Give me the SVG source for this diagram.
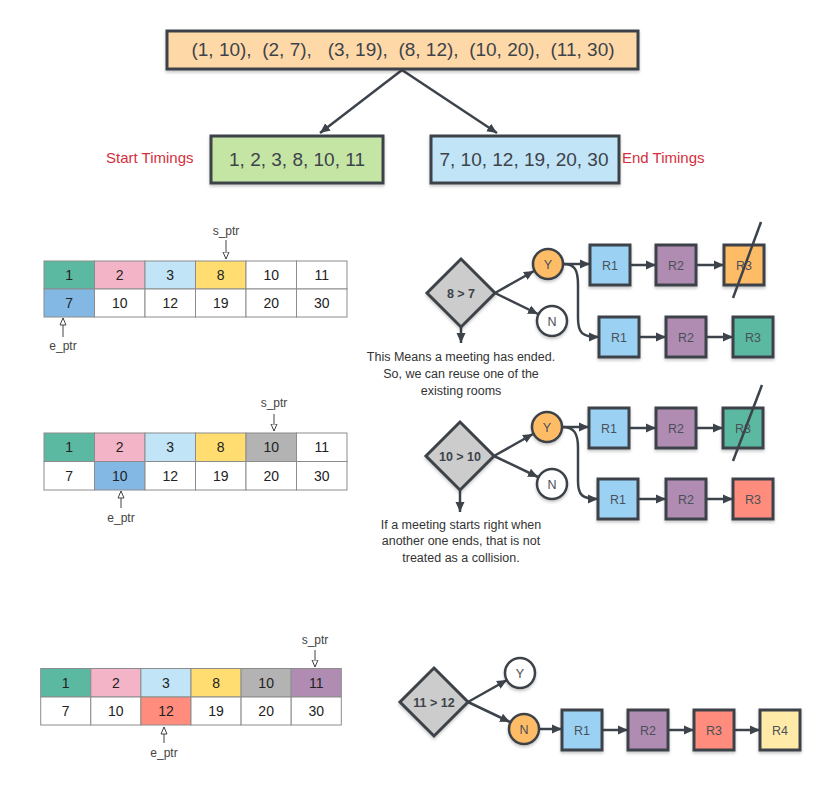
<svg xmlns="http://www.w3.org/2000/svg" width="826" height="807" viewBox="0 0 826 807">
<defs>
<style>
.bg{fill:#ffffff}
.box{stroke:#3d434a;stroke-width:3;filter:url(#sh)}
.t{font-family:"Liberation Sans",Arial,sans-serif;fill:#3d434a;text-anchor:middle}
.big{font-size:19px}
.red{font-family:"Liberation Sans",Arial,sans-serif;fill:#d52f3c;font-size:15px}
.cell{stroke:#8c8c8c;stroke-width:1}
.ct{font-family:"Liberation Sans",Arial,sans-serif;fill:#222;font-size:14px;text-anchor:middle}
.ptr{font-family:"Liberation Sans",Arial,sans-serif;fill:#444;font-size:12px;text-anchor:middle}
.pl{stroke:#444;stroke-width:1;fill:none;marker-end:url(#open)}
.con{stroke:#3d434a;stroke-width:2.5;fill:none;marker-end:url(#ah)}
.dia{fill:#cccccc;stroke:#3d434a;stroke-width:3;filter:url(#sh)}
.dt{font-family:"Liberation Sans",Arial,sans-serif;fill:#3d434a;font-size:12.5px;font-weight:bold;text-anchor:middle}
.circ{stroke:#3d434a;stroke-width:2.5;filter:url(#sh)}
.rt{font-family:"Liberation Sans",Arial,sans-serif;fill:#4a5058;font-size:12.5px;text-anchor:middle}
.note{font-family:"Liberation Sans",Arial,sans-serif;fill:#333;font-size:12.5px;text-anchor:middle}
.strike{stroke:#3d434a;stroke-width:2.5}
.rb{stroke:#3d434a;stroke-width:3;filter:url(#sh)}
</style>
<filter id="sh" x="-20%" y="-20%" width="150%" height="150%">
<feDropShadow dx="0" dy="2" stdDeviation="1.5" flood-color="#000" flood-opacity="0.22"/>
</filter>
<marker id="ah" markerUnits="userSpaceOnUse" markerWidth="11" markerHeight="10" refX="10" refY="5" orient="auto">
<path d="M0,0.5 L10,5 L0,9.5 Z" fill="#3d434a"/>
</marker>
<marker id="open" markerUnits="userSpaceOnUse" markerWidth="9" markerHeight="10" refX="7.5" refY="4" orient="auto">
<path d="M0.5,1 L7.5,4 L0.5,7 Z" fill="#ffffff" stroke="#444" stroke-width="1"/>
</marker>
</defs>
<rect class="bg" x="0" y="0" width="826" height="807"/>

<g id="connectors">
<path class="con" d="M402,70 L320,133"/>
<path class="con" d="M402,70 L497,133"/>
<!-- flow 1 -->
<path class="con" d="M461,327 L461,343"/>
<path class="con" d="M495,293 L534,271"/>
<path class="con" d="M495,293 L538,314"/>
<path class="con" d="M563,264 L590,264"/>
<path class="con" d="M630,265 L656,265"/>
<path class="con" d="M696,265 L724,265"/>
<path class="con" d="M563,264 C575,264 578,270 578,285 L578,318 C578,333 582,337 599,337"/>
<path class="con" d="M639,337 L666,337"/>
<path class="con" d="M706,337 L733,337"/>
<!-- flow 2 -->
<path class="con" d="M460,490 L460,512"/>
<path class="con" d="M494,456 L533,434"/>
<path class="con" d="M494,456 L538,477"/>
<path class="con" d="M562,427 L589,427"/>
<path class="con" d="M629,428 L656,428"/>
<path class="con" d="M696,428 L723,428"/>
<path class="con" d="M562,427 C574,427 578,433 578,448 L578,481 C578,495 582,499 598,499"/>
<path class="con" d="M638,499 L666,499"/>
<path class="con" d="M706,499 L733,499"/>
<!-- flow 3 -->
<path class="con" d="M468,702 L507,680"/>
<path class="con" d="M468,702 L510,722"/>
<path class="con" d="M539,729 L562,729"/>
<path class="con" d="M602,730 L628,730"/>
<path class="con" d="M668,730 L694,730"/>
<path class="con" d="M734,730 L760,730"/>
</g>

<g id="all-pairs">
<rect class="box" x="167" y="31" width="471" height="38" fill="#ffd8a8"/>
<text class="t big" x="403" y="56" xml:space="preserve">(1, 10),  (2, 7),   (3, 19),  (8, 12),  (10, 20),  (11, 30)</text>
</g>
<g id="start-timings">
<rect class="box" x="211" y="136" width="172" height="47" fill="#c5e5a5"/>
<text class="t big" x="297" y="166">1, 2, 3, 8, 10, 11</text>
<text class="red" x="106" y="163">Start Timings</text>
</g>
<g id="end-timings">
<rect class="box" x="431" y="136" width="188" height="47" fill="#c1e4f7"/>
<text class="t big" x="524" y="166">7, 10, 12, 19, 20, 30</text>
<text class="red" x="622" y="163">End Timings</text>
</g>

<g id="table-1">
<rect class="cell" x="44" y="261" width="50.5" height="28" fill="#5bb9a1"/>
<rect class="cell" x="94.5" y="261" width="50.5" height="28" fill="#f4b4c8"/>
<rect class="cell" x="145" y="261" width="50.5" height="28" fill="#c1e4f7"/>
<rect class="cell" x="195.5" y="261" width="50.5" height="28" fill="#ffdd71"/>
<rect class="cell" x="246" y="261" width="50.5" height="28" fill="#ffffff"/>
<rect class="cell" x="296.5" y="261" width="50.5" height="28" fill="#ffffff"/>
<rect class="cell" x="44" y="289" width="50.5" height="28" fill="#83b8e4"/>
<rect class="cell" x="94.5" y="289" width="50.5" height="28" fill="#ffffff"/>
<rect class="cell" x="145" y="289" width="50.5" height="28" fill="#ffffff"/>
<rect class="cell" x="195.5" y="289" width="50.5" height="28" fill="#ffffff"/>
<rect class="cell" x="246" y="289" width="50.5" height="28" fill="#ffffff"/>
<rect class="cell" x="296.5" y="289" width="50.5" height="28" fill="#ffffff"/>
<text class="ct" x="69.25" y="280">1</text>
<text class="ct" x="119.75" y="280">2</text>
<text class="ct" x="170.25" y="280">3</text>
<text class="ct" x="220.75" y="280">8</text>
<text class="ct" x="271.25" y="280">10</text>
<text class="ct" x="321.75" y="280">11</text>
<text class="ct" x="69.25" y="308">7</text>
<text class="ct" x="119.75" y="308">10</text>
<text class="ct" x="170.25" y="308">12</text>
<text class="ct" x="220.75" y="308">19</text>
<text class="ct" x="271.25" y="308">20</text>
<text class="ct" x="321.75" y="308">30</text>
<text class="ptr" x="226" y="235">s_ptr</text>
<path class="pl" d="M226,240 L226,259"/>
<text class="ptr" x="63" y="350">e_ptr</text>
<path class="pl" d="M63,337 L63,318"/>
</g>

<g id="table-2">
<rect class="cell" x="44" y="433" width="50.5" height="28.5" fill="#5bb9a1"/>
<rect class="cell" x="94.5" y="433" width="50.5" height="28.5" fill="#f4b4c8"/>
<rect class="cell" x="145" y="433" width="50.5" height="28.5" fill="#c1e4f7"/>
<rect class="cell" x="195.5" y="433" width="50.5" height="28.5" fill="#ffdd71"/>
<rect class="cell" x="246" y="433" width="50.5" height="28.5" fill="#b3b3b3"/>
<rect class="cell" x="296.5" y="433" width="50.5" height="28.5" fill="#ffffff"/>
<rect class="cell" x="44" y="461.5" width="50.5" height="28.5" fill="#ffffff"/>
<rect class="cell" x="94.5" y="461.5" width="50.5" height="28.5" fill="#83b8e4"/>
<rect class="cell" x="145" y="461.5" width="50.5" height="28.5" fill="#ffffff"/>
<rect class="cell" x="195.5" y="461.5" width="50.5" height="28.5" fill="#ffffff"/>
<rect class="cell" x="246" y="461.5" width="50.5" height="28.5" fill="#ffffff"/>
<rect class="cell" x="296.5" y="461.5" width="50.5" height="28.5" fill="#ffffff"/>
<text class="ct" x="69.25" y="452">1</text>
<text class="ct" x="119.75" y="452">2</text>
<text class="ct" x="170.25" y="452">3</text>
<text class="ct" x="220.75" y="452">8</text>
<text class="ct" x="271.25" y="452">10</text>
<text class="ct" x="321.75" y="452">11</text>
<text class="ct" x="69.25" y="480.5">7</text>
<text class="ct" x="119.75" y="480.5">10</text>
<text class="ct" x="170.25" y="480.5">12</text>
<text class="ct" x="220.75" y="480.5">19</text>
<text class="ct" x="271.25" y="480.5">20</text>
<text class="ct" x="321.75" y="480.5">30</text>
<text class="ptr" x="274" y="407">s_ptr</text>
<path class="pl" d="M274,414 L274,431"/>
<text class="ptr" x="121" y="521.5">e_ptr</text>
<path class="pl" d="M121,508 L121,491"/>
</g>

<g id="table-3">
<rect class="cell" x="40.7" y="668.5" width="50.1" height="28.5" fill="#5bb9a1"/>
<rect class="cell" x="90.8" y="668.5" width="50.1" height="28.5" fill="#f4b4c8"/>
<rect class="cell" x="140.9" y="668.5" width="50.1" height="28.5" fill="#c1e4f7"/>
<rect class="cell" x="191" y="668.5" width="50.1" height="28.5" fill="#ffdd71"/>
<rect class="cell" x="241.1" y="668.5" width="50.1" height="28.5" fill="#b3b3b3"/>
<rect class="cell" x="291.2" y="668.5" width="50.1" height="28.5" fill="#b08cb2"/>
<rect class="cell" x="40.7" y="697" width="50.1" height="28" fill="#ffffff"/>
<rect class="cell" x="90.8" y="697" width="50.1" height="28" fill="#ffffff"/>
<rect class="cell" x="140.9" y="697" width="50.1" height="28" fill="#ff8c7c"/>
<rect class="cell" x="191" y="697" width="50.1" height="28" fill="#ffffff"/>
<rect class="cell" x="241.1" y="697" width="50.1" height="28" fill="#ffffff"/>
<rect class="cell" x="291.2" y="697" width="50.1" height="28" fill="#ffffff"/>
<text class="ct" x="65.75" y="688">1</text>
<text class="ct" x="115.85" y="688">2</text>
<text class="ct" x="165.95" y="688">3</text>
<text class="ct" x="216.05" y="688">8</text>
<text class="ct" x="266.15" y="688">10</text>
<text class="ct" x="316.25" y="688">11</text>
<text class="ct" x="65.75" y="716">7</text>
<text class="ct" x="115.85" y="716">10</text>
<text class="ct" x="165.95" y="716">12</text>
<text class="ct" x="216.05" y="716">19</text>
<text class="ct" x="266.15" y="716">20</text>
<text class="ct" x="316.25" y="716">30</text>
<text class="ptr" x="315" y="644">s_ptr</text>
<path class="pl" d="M315,650 L315,667"/>
<text class="ptr" x="164" y="756.5">e_ptr</text>
<path class="pl" d="M164,743 L164,727"/>
</g>

<!-- flow 1 -->
<g id="cond-1">
<polygon class="dia" points="461,259 495,293 461,327 427,293"/>
<text class="dt" x="461" y="297.5">8 &gt; 7</text>
</g>
<g id="note-1">
<text class="note" x="461" y="361">This Means a meeting has ended.</text>
<text class="note" x="461" y="378">So, we can reuse one of the</text>
<text class="note" x="461" y="395">existing rooms</text>
</g>
<g id="y-1"><circle class="circ" cx="548" cy="264" r="15" fill="#ffbc66"/><text class="rt" x="548" y="268.5">Y</text></g>
<g id="n-1"><circle class="circ" cx="552" cy="321" r="15" fill="#ffffff"/><text class="rt" x="552" y="325.5">N</text></g>
<g id="f1-a-r1"><rect class="rb" x="590" y="245" width="40" height="40" fill="#9bd2f4"/><text class="rt" x="610" y="269.5">R1</text></g>
<g id="f1-a-r2"><rect class="rb" x="656" y="245" width="40" height="40" fill="#b08cb2"/><text class="rt" x="676" y="269.5">R2</text></g>
<g id="f1-a-r3"><rect class="rb" x="724" y="245" width="40" height="40" fill="#ffbc66"/><text class="rt" x="744" y="269.5">R3</text>
<line class="strike" x1="761" y1="222" x2="733" y2="298"/></g>
<g id="f1-b-r1"><rect class="rb" x="599" y="317" width="40" height="40" fill="#9bd2f4"/><text class="rt" x="619" y="341.5">R1</text></g>
<g id="f1-b-r2"><rect class="rb" x="666" y="317" width="40" height="40" fill="#b08cb2"/><text class="rt" x="686" y="341.5">R2</text></g>
<g id="f1-b-r3"><rect class="rb" x="733" y="317" width="40" height="40" fill="#5bb9a1"/><text class="rt" x="753" y="341.5">R3</text></g>

<!-- flow 2 -->
<g id="cond-2">
<polygon class="dia" points="460,422 494,456 460,490 426,456"/>
<text class="dt" x="460" y="460.5">10 &gt; 10</text>
</g>
<g id="note-2">
<text class="note" x="461" y="528.5">If a meeting starts right when</text>
<text class="note" x="461" y="545">another one ends, that is not</text>
<text class="note" x="461" y="561.5">treated as a collision.</text>
</g>
<g id="y-2"><circle class="circ" cx="547" cy="427" r="15" fill="#ffbc66"/><text class="rt" x="547" y="431.5">Y</text></g>
<g id="n-2"><circle class="circ" cx="552" cy="484" r="15" fill="#ffffff"/><text class="rt" x="552" y="488.5">N</text></g>
<g id="f2-a-r1"><rect class="rb" x="589" y="408" width="40" height="40" fill="#9bd2f4"/><text class="rt" x="609" y="432.5">R1</text></g>
<g id="f2-a-r2"><rect class="rb" x="656" y="408" width="40" height="40" fill="#b08cb2"/><text class="rt" x="676" y="432.5">R2</text></g>
<g id="f2-a-r3"><rect class="rb" x="723" y="408" width="40" height="40" fill="#5bb9a1"/><text class="rt" x="743" y="432.5">R3</text>
<line class="strike" x1="762" y1="385" x2="733" y2="461"/></g>
<g id="f2-b-r1"><rect class="rb" x="598" y="479" width="40" height="40" fill="#9bd2f4"/><text class="rt" x="618" y="503.5">R1</text></g>
<g id="f2-b-r2"><rect class="rb" x="666" y="479" width="40" height="40" fill="#b08cb2"/><text class="rt" x="686" y="503.5">R2</text></g>
<g id="f2-b-r3"><rect class="rb" x="733" y="479" width="40" height="40" fill="#ff8c7c"/><text class="rt" x="753" y="503.5">R3</text></g>

<!-- flow 3 -->
<g id="cond-3">
<polygon class="dia" points="434,668 468,702 434,736 400,702"/>
<text class="dt" x="434" y="706.5">11 &gt; 12</text>
</g>
<g id="y-3"><circle class="circ" cx="520" cy="673" r="15" fill="#ffffff"/><text class="rt" x="520" y="677.5">Y</text></g>
<g id="n-3"><circle class="circ" cx="524" cy="729" r="15" fill="#ffbc66"/><text class="rt" x="524" y="733.5">N</text></g>
<g id="f3-r1"><rect class="rb" x="562" y="710" width="40" height="40" fill="#9bd2f4"/><text class="rt" x="582" y="734.5">R1</text></g>
<g id="f3-r2"><rect class="rb" x="628" y="710" width="40" height="40" fill="#b08cb2"/><text class="rt" x="648" y="734.5">R2</text></g>
<g id="f3-r3"><rect class="rb" x="694" y="710" width="40" height="40" fill="#ff8c7c"/><text class="rt" x="714" y="734.5">R3</text></g>
<g id="f3-r4"><rect class="rb" x="760" y="710" width="40" height="40" fill="#ffeba7"/><text class="rt" x="780" y="734.5">R4</text></g>
</svg>
